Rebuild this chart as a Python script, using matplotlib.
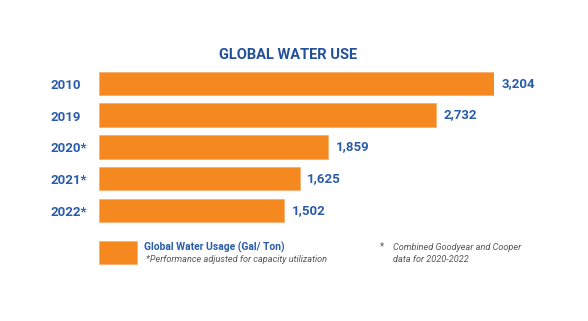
import matplotlib
matplotlib.use("Agg")
import matplotlib.pyplot as plt
from matplotlib.patches import Rectangle
from matplotlib.transforms import blended_transform_factory

years = ["2010", "2019", "2020*", "2021*", "2022*"]
water_use = [3204, 2732, 1859, 1625, 1502]
value_labels = ["3,204", "2,732", "1,859", "1,625", "1,502"]

ORANGE = "#F5891F"
BLUE = "#2A5CAA"
TITLE_BLUE = "#23509A"
GREY = "#555555"

W, H = 588, 321
fig = plt.figure(figsize=(W / 100, H / 100), dpi=100)
fig.patch.set_facecolor("white")


def fx(px):
    return px / W


def fy(py):
    return 1 - py / H


# bar area in pixel terms
left, right_px = 99.3, 494.3
top, bottom = 67.4, 226.4
ax = fig.add_axes([fx(left), fy(bottom), fx(right_px) - fx(left), (bottom - top) / H])
ax.set_xlim(0, max(water_use))
ax.set_ylim(len(years) - 0.5, -0.5)
ax.axis("off")

ypos = list(range(len(years)))
ax.barh(ypos, water_use, height=0.73, color=ORANGE, edgecolor="#F8B070", linewidth=0.6)

label_tf = blended_transform_factory(fig.transFigure, ax.transData)
for y, v, lab, yr in zip(ypos, water_use, value_labels, years):
    ax.text(v + max(water_use) * 0.018, y, lab, va="center", ha="left",
            fontsize=9.5, fontweight="bold", color=BLUE, family="Roboto", clip_on=False)
    ax.text(fx(50.5), y + 0.06, yr, transform=label_tf, va="center", ha="left",
            fontsize=9.5, fontweight="bold", color=BLUE, family="Roboto", clip_on=False)

fig.text(fx(288), fy(55), "GLOBAL WATER USE", ha="center", va="center",
         fontsize=10.5, fontweight="bold", color=TITLE_BLUE, family="Roboto")

# legend swatch and notes
fig.patches.append(Rectangle((fx(99.3), fy(264)), fx(137) - fx(99.3), (264 - 240.7) / H,
                             transform=fig.transFigure, facecolor=ORANGE,
                             edgecolor="#F8B070", linewidth=0.6))
fig.text(fx(144.5), fy(247.5), "Global Water Usage (Gal/ Ton)", ha="left", va="center",
         fontsize=7.4, fontweight="bold", color=BLUE, family="Roboto")
fig.text(fx(145.5), fy(260), "*Performance adjusted for capacity utilization", ha="left",
         va="center", fontsize=6.6, style="italic", color=GREY, family="Roboto")
fig.text(fx(381.5), fy(246), "*", ha="center", va="center",
         fontsize=7, color=GREY, family="Roboto")
fig.text(fx(393.3), fy(247.5), "Combined Goodyear and Cooper", ha="left", va="center",
         fontsize=6.6, style="italic", color=GREY, family="Roboto")
fig.text(fx(393.3), fy(260), "data for 2020-2022", ha="left", va="center",
         fontsize=6.6, style="italic", color=GREY, family="Roboto")

fig.savefig("out.png", dpi=100, facecolor="white")
